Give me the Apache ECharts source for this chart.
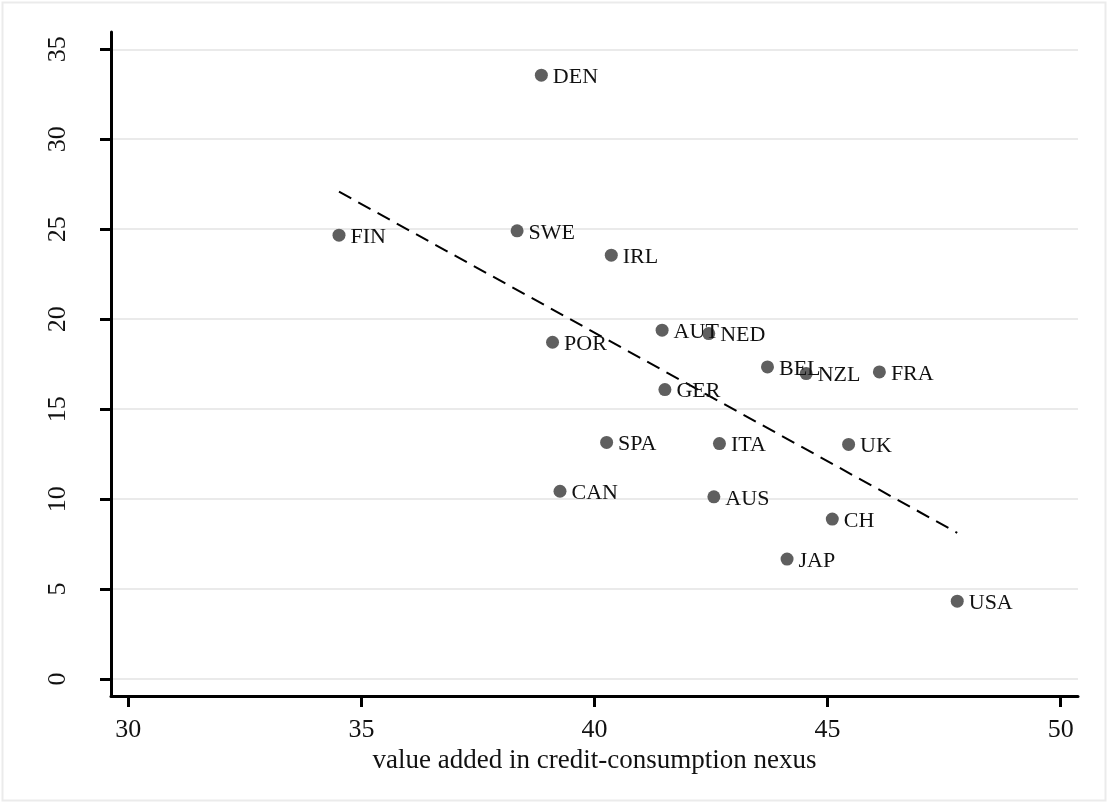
<!DOCTYPE html>
<html>
<head>
<meta charset="utf-8">
<script src="https://cdn.jsdelivr.net/npm/echarts@6/dist/echarts.min.js"></script>
<style>
  html, body { margin: 0; padding: 0; background: #fff; }
  #chart { width: 1108px; height: 804px; }
</style>
</head>
<body>
<div id="chart"></div>
<script>
// countries and their values
var countries = ['DEN', 'FIN', 'SWE', 'IRL', 'AUT', 'NED', 'POR', 'BEL', 'NZL', 'FRA',
  'GER', 'SPA', 'ITA', 'UK', 'CAN', 'AUS', 'CH', 'JAP', 'USA'];
var valueAdded = [38.86, 34.52, 38.34, 40.36, 41.45, 42.45, 39.10, 43.71, 44.54, 46.11,
  41.51, 40.26, 42.68, 45.45, 39.26, 42.56, 45.10, 44.13, 47.78];
var yValues = [33.56, 24.67, 24.91, 23.56, 19.39, 19.20, 18.72, 17.35, 16.98, 17.07,
  16.09, 13.15, 13.09, 13.04, 10.44, 10.13, 8.89, 6.67, 4.33];

// tick labels
var xTicks = [30, 35, 40, 45, 50];
var yTicks = [0, 5, 10, 15, 20, 25, 30, 35];

var font = '"Liberation Serif", "DejaVu Serif", serif';

// linear fit (OLS) over the points
function linearFit(xs, ys) {
  var n = xs.length, mx = 0, my = 0;
  for (var i = 0; i < n; i++) { mx += xs[i]; my += ys[i]; }
  mx /= n; my /= n;
  var sxy = 0, sxx = 0;
  for (var j = 0; j < n; j++) {
    sxy += (xs[j] - mx) * (ys[j] - my);
    sxx += (xs[j] - mx) * (xs[j] - mx);
  }
  var b = sxy / sxx;
  var a = my - b * mx;
  var lo = Math.min.apply(null, xs), hi = Math.max.apply(null, xs);
  return [[lo, a + b * lo], [hi, a + b * hi]];
}

var points = countries.map(function (c, i) {
  return [valueAdded[i], yValues[i], c];
});

var chart = echarts.init(document.getElementById('chart'));

var option = {
  backgroundColor: '#fff',
  animation: false,
  graphic: [{
    type: 'rect',
    shape: { x: 2.5, y: 2.5, width: 1103, height: 798 },
    style: { fill: 'none', stroke: '#ebebeb', lineWidth: 2 },
    silent: true
  }],
  grid: { left: 111, right: 30, top: 32, bottom: 108 },
  xAxis: {
    type: 'value',
    min: 29.63,
    max: 50.37,
    name: 'value added in credit-consumption nexus',
    nameLocation: 'middle',
    nameGap: 50,
    nameTextStyle: { fontFamily: font, fontSize: 27, color: '#111' },
    axisLine: { onZero: false, lineStyle: { color: '#000', width: 3 } },
    axisTick: { customValues: xTicks, length: 11, lineStyle: { color: '#000', width: 3 } },
    axisLabel: { customValues: xTicks, margin: 21, fontFamily: font, fontSize: 26, color: '#111' },
    splitLine: { show: false }
  },
  yAxis: {
    type: 'value',
    min: -0.94,
    max: 35.96,
    axisLine: { onZero: false, lineStyle: { color: '#000', width: 3 } },
    axisTick: { customValues: yTicks, length: 11, lineStyle: { color: '#000', width: 3 } },
    axisLabel: { customValues: yTicks, rotate: 90, margin: 40, fontFamily: font, fontSize: 26, color: '#111' },
    splitLine: { show: true, lineStyle: { color: '#eaeaea', width: 2 } }
  },
  series: [
    {
      type: 'scatter',
      data: points,
      symbolSize: 13,
      itemStyle: { color: '#5f5f5f', opacity: 1 },
      label: {
        show: true,
        position: 'right',
        distance: 5,
        offset: [0, 2],
        formatter: function (p) { return p.data[2]; },
        fontFamily: font,
        fontSize: 22,
        color: '#111'
      },
      z: 3
    },
    {
      type: 'line',
      data: linearFit(valueAdded, yValues),
      symbol: 'none',
      lineStyle: { color: '#000', width: 2, type: [14, 8] },
      z: 2
    }
  ]
};

chart.setOption(option);
</script>
</body>
</html>
